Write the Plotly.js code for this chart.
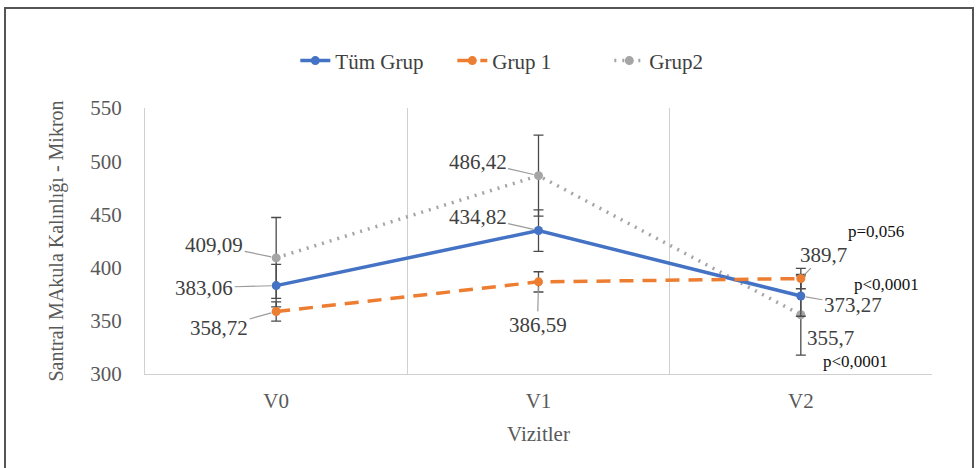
<!DOCTYPE html>
<html>
<head>
<meta charset="utf-8">
<script src="https://cdn.plot.ly/plotly-3.0.1.min.js"></script>
<style>
  html, body { margin: 0; padding: 0; background: #fff; }
  #wrap { position: relative; width: 979px; height: 468px; overflow: hidden; }
  #chart { position: absolute; left: 0; top: 0; width: 979px; height: 468px; }
  #frame { position: absolute; left: 4px; top: 7px; width: 966px; height: 480px;
           border: 2px solid #555; pointer-events: none; }
</style>
</head>
<body>
<div id="wrap">
  <div id="chart"></div>
  <div id="frame"></div>
</div>
<script>
// ---- data ----
const visits = ["V0", "V1", "V2"];
const tumGrup = [383.06, 434.82, 373.27];
const grup1 = [358.72, 386.59, 389.7];
const grup2 = [409.09, 486.42, 355.7];
const tumGrupErr = [20, 19.5, 19];
const grup1Err = [9, 9.5, 9.6];
const grup2Err = [38, 38, 38];
const tumGrupLabels = ["383,06", "434,82", "373,27"];
const grup1Labels = ["358,72", "386,59", "389,7"];
const grup2Labels = ["409,09", "486,42", "355,7"];
const pLabels = ["p=0,056", "p<0,0001", "p<0,0001"];
const pValuesY = [434, 384, 312.2];
const yTicks = [300, 350, 400, 450, 500, 550];

const FONT = 'Liberation Serif';
const BLUE = '#4472C4', ORANGE = '#ED7D31', GRAY = '#A5A5A5';
const ERRC = '#4a4a4a';

function errBar(arr) {
  return { type: 'data', array: arr, visible: true, color: ERRC, thickness: 1.3, width: 5 };
}

const traces = [
  { x: visits, y: grup2, name: 'Grup2', type: 'scatter', mode: 'lines+markers', legendrank: 3,
    line: { color: GRAY, width: 3.5, dash: '2px,6px' }, marker: { color: GRAY, size: 9 },
    error_y: errBar(grup2Err) },
  { x: visits, y: tumGrup, name: 'Tüm Grup', type: 'scatter', mode: 'lines+markers', legendrank: 1,
    line: { color: BLUE, width: 3.5 }, marker: { color: BLUE, size: 9 },
    error_y: errBar(tumGrupErr) },
  { x: visits, y: grup1, name: 'Grup 1', type: 'scatter', mode: 'lines+markers', legendrank: 2,
    line: { color: ORANGE, width: 3.5, dash: '14px,9px' }, marker: { color: ORANGE, size: 9 },
    error_y: errBar(grup1Err) }
];

// label offsets (pixels) per series per point
const offs = {
  blue: [[-72, 2], [-61, -14], [52, 9]],
  orange: [[-57, 16], [-1, 43], [23, -24]],
  gray: [[-62, -13], [-61, -14], null]
};

const annotations = [];
function addLabels(vals, labels, key) {
  vals.forEach((v, i) => {
    const o = offs[key][i];
    if (o) {
      annotations.push({ x: visits[i], y: v, text: labels[i], showarrow: true, arrowhead: 0,
        arrowwidth: 1.2, arrowcolor: '#9a9a9a', ax: o[0], ay: o[1], standoff: 5,
        font: { family: FONT, size: 21, color: '#404040' } });
    } else {
      annotations.push({ x: visits[i], y: v, text: labels[i], showarrow: false,
        xshift: 30, yshift: -23, font: { family: FONT, size: 21, color: '#404040' } });
    }
  });
}
addLabels(tumGrup, tumGrupLabels, 'blue');
addLabels(grup1, grup1Labels, 'orange');
addLabels(grup2, grup2Labels, 'gray');

const pShift = [75, 86, 55];
pLabels.forEach((t, i) => {
  annotations.push({ x: 2, y: pValuesY[i], text: t, showarrow: false, xshift: pShift[i],
    font: { family: FONT, size: 17, color: '#111' } });
});

const layout = {
  width: 979, height: 468,
  margin: { l: 145, r: 47, t: 108, b: 94 },
  paper_bgcolor: '#fff', plot_bgcolor: '#fff',
  font: { family: FONT, size: 20, color: '#595959' },
  showlegend: true,
  legend: { orientation: 'h', x: 0.191, xanchor: 'left', y: 1.177, yanchor: 'middle',
    entrywidth: 112, entrywidthmode: 'pixels',
    font: { family: FONT, size: 21, color: '#404040' }, traceorder: 'normal' },
  xaxis: {
    type: 'category', range: [-0.5, 2.5], tickson: 'boundaries', showgrid: true,
    gridcolor: '#d0d0d0', gridwidth: 1, ticks: '', showline: true, linecolor: '#d0d0d0',
    mirror: false, zeroline: false, fixedrange: true, ticklabelstandoff: 8,
    tickfont: { family: FONT, size: 21, color: '#595959' },
    title: { text: 'Vizitler', font: { family: FONT, size: 21, color: '#595959' }, standoff: 14 }
  },
  yaxis: {
    range: [300, 550], tickvals: yTicks, showgrid: false, zeroline: false,
    showline: true, linecolor: '#d0d0d0', ticks: '', ticklabelstandoff: 18,
    tickfont: { family: FONT, size: 21, color: '#595959' },
    title: { text: 'Santral MAkula Kalınlığı - Mikron', font: { family: FONT, size: 20, color: '#595959' }, standoff: 21 }
  },
  annotations: annotations
};

Plotly.newPlot('chart', traces, layout, { displayModeBar: false, staticPlot: true });
</script>
</body>
</html>
